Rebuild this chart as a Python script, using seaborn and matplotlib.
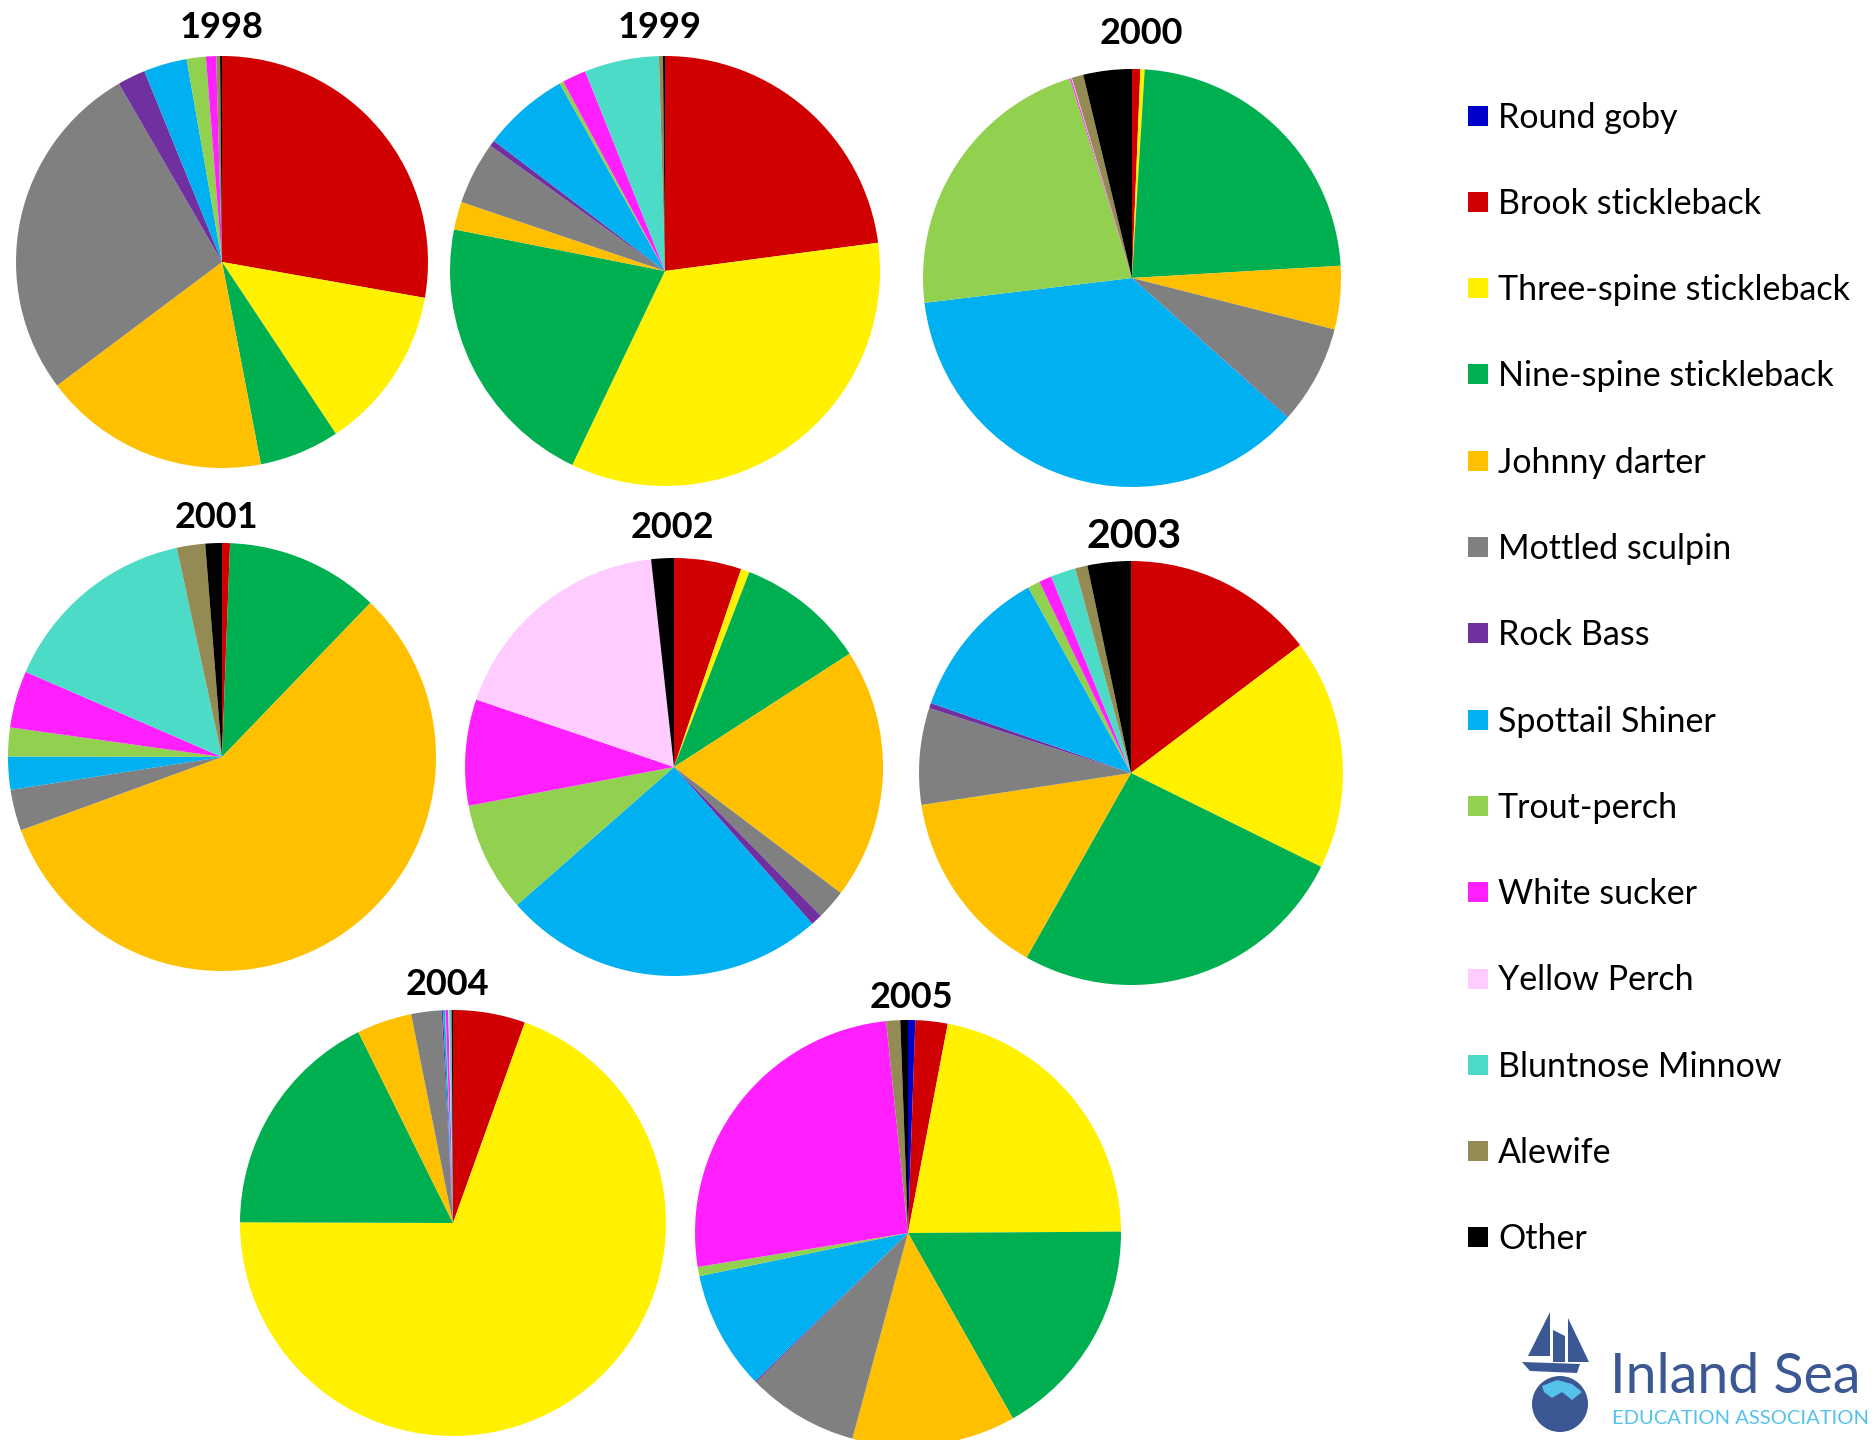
import matplotlib
matplotlib.use("Agg")
import matplotlib.pyplot as plt
import seaborn as sns
from matplotlib.patches import Rectangle, Circle, Polygon

# ---------------- data ----------------
species = ["Round goby", "Brook stickleback", "Three-spine stickleback",
           "Nine-spine stickleback", "Johnny darter", "Mottled sculpin",
           "Rock Bass", "Spottail Shiner", "Trout-perch", "White sucker",
           "Yellow Perch", "Bluntnose Minnow", "Alewife", "Other"]
species_colors = ["#0000CC", "#D00000", "#FFF100", "#00B050", "#FFC000",
                  "#808080", "#7030A0", "#00B0F0", "#92D050", "#FF1FFF",
                  "#FFCCFF", "#4CDBC6", "#948A54", "#000000"]
years = ["1998", "1999", "2000", "2001", "2002", "2003", "2004", "2005"]

share_1998 = [0, 27.8, 12.9, 6.3, 17.8, 26.9, 2.2, 3.4, 1.5, 0.8, 0, 0, 0.3, 0.15]
share_1999 = [0, 22.9, 34.2, 21.0, 2.1, 4.7, 0.45, 6.5, 0.3, 1.8, 0, 5.6, 0.3, 0.15]
share_2000 = [0, 0.64, 0.33, 23.1, 4.9, 7.6, 0.05, 36.5, 22.1, 0.1, 0.05, 0, 0.9, 3.75]
share_2001 = [0, 0.6, 0, 11.6, 57.25, 3.1, 0, 2.5, 2.17, 4.3, 0, 15.1, 2.14, 1.25]
share_2002 = [0, 5.2, 0.67, 10.0, 19.4, 2.3, 0.9, 25.0, 8.5, 8.2, 18.0, 0, 0, 1.75]
share_2003 = [0, 14.7, 17.6, 25.9, 14.4, 7.36, 0.4, 11.6, 0.94, 0.97, 0, 1.9, 0.94, 3.3]
share_2004 = [0, 5.47, 69.5, 17.6, 4.17, 2.3, 0.1, 0.15, 0.05, 0.2, 0.05, 0.15, 0.05, 0.1]
share_2005 = [0.55, 2.44, 21.9, 16.9, 12.4, 8.44, 0.1, 9.0, 0.7, 25.9, 0, 0, 1.06, 0.58]

shares = [share_1998, share_1999, share_2000, share_2001,
          share_2002, share_2003, share_2004, share_2005]

# ---------------- style / layout ----------------
sns.set_theme(style="white")
plt.rcParams["font.family"] = ["Lato", "DejaVu Sans"]
palette = sns.color_palette(species_colors)

W, H = 1875, 1440
fig = plt.figure(figsize=(W / 100, H / 100), dpi=100)
fig.patch.set_facecolor("white")

# pie centre x, centre y, radius, title x, title baseline, title size (pixels / pt)
layout = [
    (222, 262, 206, 222, 38, 26),
    (665, 271, 215, 660, 38, 26),
    (1132, 278, 209, 1141, 44, 26),
    (222, 757, 214, 216, 528, 26),
    (674, 767, 209, 672, 538, 26),
    (1131, 773, 212, 1134, 548, 29.5),
    (453, 1223, 213, 447, 995, 26),
    (908, 1233, 213, 911, 1008, 26),
]

for year, vals, (cx, cy, r, tx, tb, ts) in zip(years, shares, layout):
    ax = fig.add_axes([(cx - r) / W, 1 - (cy + r) / H, 2 * r / W, 2 * r / H])
    ax.pie(vals, colors=palette, startangle=90, counterclock=False,
           radius=1, wedgeprops=dict(linewidth=0))
    ax.set_xlim(-1.0, 1.0)
    ax.set_ylim(-1.0, 1.0)
    ax.set_aspect("equal")
    ax.axis("off")
    fig.text(tx / W, 1 - tb / H, year, ha="center", va="baseline",
             fontsize=ts, fontweight="bold", color="black")

# ---------------- legend ----------------
y0, dy = 115.5, 86.3
for i, (name, col) in enumerate(zip(species, palette)):
    yc = y0 + i * dy
    fig.patches.append(Rectangle((1468 / W, 1 - (yc + 10) / H), 20 / W, 20 / H,
                                 transform=fig.transFigure, facecolor=col,
                                 edgecolor="none"))
    fig.text(1498 / W, 1 - (yc + 12) / H, name, ha="left", va="baseline",
             fontsize=24.5, color="black")

# ---------------- logo ----------------
navy = "#3B5894"
fig.text(1610 / W, 1 - 1393 / H, "Inland Sea", color=navy,
         fontsize=40, va="baseline", ha="left")
fig.text(1612 / W, 1 - 1424 / H, "EDUCATION ASSOCIATION", color="#55C2EC",
         fontsize=14.5, va="baseline", ha="left")

lax = fig.add_axes([1510 / W, 0, 100 / W, 160 / H])
lax.set_xlim(1510, 1610)
lax.set_ylim(1440, 1280)
lax.axis("off")
lax.add_patch(Circle((1560, 1404), 28, facecolor=navy, edgecolor="none"))
lax.add_patch(Polygon([(1542, 1386), (1557, 1380), (1572, 1384), (1582, 1392),
                       (1572, 1400), (1562, 1392), (1552, 1398), (1544, 1392)],
                      facecolor="#55C2EC", edgecolor="none"))
lax.add_patch(Polygon([(1550, 1312), (1528, 1356), (1550, 1356)],
                      facecolor=navy, edgecolor="none"))
lax.add_patch(Polygon([(1553, 1330), (1565, 1336), (1565, 1362), (1553, 1362)],
                      facecolor=navy, edgecolor="none"))
lax.add_patch(Polygon([(1568, 1318), (1589, 1362), (1568, 1362)],
                      facecolor=navy, edgecolor="none"))
lax.add_patch(Polygon([(1522, 1362), (1580, 1364), (1577, 1373), (1530, 1371)],
                      facecolor=navy, edgecolor="none"))

fig.savefig("out.png", dpi=100, facecolor="white")
